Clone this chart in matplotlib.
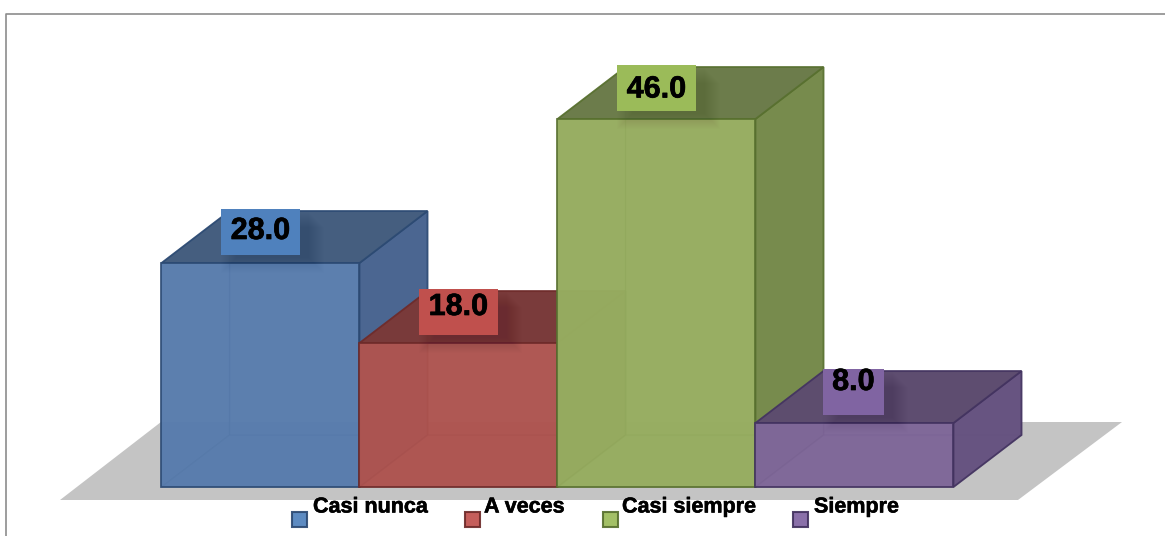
import matplotlib
matplotlib.use("Agg")
import matplotlib.pyplot as plt
import matplotlib.patheffects as pe
from matplotlib.patches import Polygon, Rectangle

categories = ["Casi nunca", "A veces", "Casi siempre", "Siempre"]
values = [28.0, 18.0, 46.0, 8.0]
front_colors = ["#587CAD", "#AE5450", "#96AD60", "#7F6799"]
top_colors = ["#445D7D", "#783939", "#6A7A4A", "#5C4C6E"]
side_colors = ["#4A6590", "#874140", "#768A4C", "#665380"]
edge_colors = ["#2C4A73", "#6E2B2A", "#58702F", "#433360"]
label_colors = ["#4F81BD", "#C0504D", "#9BBB59", "#8064A2"]

W, H = 1165, 536
X0, BAR_W = 161.5, 198.0      # pixel x of the first bar, pixel width of a category
Y0, PX_PER_UNIT = 487.0, 8.0  # pixel y of the baseline, pixels per value unit
DEPTH_X = 68 / BAR_W          # oblique depth in category units
DEPTH_Y = 52 / PX_PER_UNIT    # oblique depth in value units

fig = plt.figure(figsize=(W / 100, H / 100), dpi=100, facecolor="white")
ax = fig.add_axes([0, 0, 1, 1])
ax.set_xlim(-X0 / BAR_W, (W - X0) / BAR_W)
ax.set_ylim(-(H - Y0) / PX_PER_UNIT, Y0 / PX_PER_UNIT)
ax.axis("off")


def px(x, y):
    """Convert a pixel position (origin top-left) to data coordinates."""
    return (x - X0) / BAR_W, (Y0 - y) / PX_PER_UNIT


def px_poly(points, **kw):
    ax.add_patch(Polygon([px(*p) for p in points], closed=True, **kw))


# outer frame: left and top rules only, the right side runs off the canvas
ax.plot(*zip(px(6.5, 536), px(6.5, 13.5), px(1165, 13.5)),
        color="#8C8C8C", lw=1.2, zorder=1)

# floor
px_poly([(60, 500), (161, 422), (1122, 422), (1018, 500)],
        facecolor="#C4C4C4", edgecolor="none", zorder=2)


def face(points, fc, ec, alpha, z, edge_alpha=0.9, lw=1.3):
    ax.add_patch(Polygon(points, closed=True, facecolor=fc, edgecolor="none",
                         alpha=alpha, zorder=z))
    ax.add_patch(Polygon(points, closed=True, fill=False, edgecolor=ec,
                         lw=lw, alpha=edge_alpha, zorder=z))


# oblique boxes, left to right
for i, v in enumerate(values):
    x0, x1 = i, i + 1
    dx, dy = DEPTH_X, DEPTH_Y
    z = 3 + i
    fc, tc, sc, ec = front_colors[i], top_colors[i], side_colors[i], edge_colors[i]
    # hidden faces
    face([(x0 + dx, dy), (x1 + dx, dy), (x1 + dx, v + dy), (x0 + dx, v + dy)], fc, ec, 0.8, z, 0.35, 1.0)
    face([(x0, 0), (x0 + dx, dy), (x0 + dx, v + dy), (x0, v)], fc, ec, 0.8, z, 0.35, 1.0)
    face([(x0, 0), (x1, 0), (x1 + dx, dy), (x0 + dx, dy)], fc, ec, 0.8, z, 0.35, 1.0)
    # visible faces
    face([(x1, 0), (x1 + dx, dy), (x1 + dx, v + dy), (x1, v)], sc, ec, 0.97, z)
    face([(x0, v), (x1, v), (x1 + dx, v + dy), (x0 + dx, v + dy)], tc, ec, 0.97, z)
    face([(x0, 0), (x1, 0), (x1, v), (x0, v)], fc, ec, 0.88, z)

# value labels with a soft drop shadow, anchored to the back edge of each box
label_left = [221, 419, 617, 823]
label_width = [79, 79, 79, 61]
label_text_y = [231, 307, 89.5, 382]
for i, v in enumerate(values):
    left_px, w_px = label_left[i], label_width[i]
    top_px = Y0 - (v * PX_PER_UNIT) - 54
    cx, _ = px(left_px + w_px / 2, 0)
    w = w_px / BAR_W
    h = 46 / PX_PER_UNIT
    bottom = px(0, top_px + 46)[1]
    for grow in range(1, 17):
        ax.add_patch(Rectangle((cx - w / 2 + (16 - grow) / BAR_W, bottom - (2 + grow) / PX_PER_UNIT),
                               w + (2 * grow - 16 + 8) / BAR_W, h,
                               facecolor="#202030", edgecolor="none", alpha=0.009, zorder=8))
    ax.add_patch(Rectangle((cx - w / 2, bottom), w, h, facecolor=label_colors[i],
                           edgecolor="none", zorder=9))
    ax.text(cx, px(0, label_text_y[i])[1], f"{v:.1f}", ha="center", va="center",
            color="black", zorder=10, family="Liberation Sans", weight="bold", size=22,
            path_effects=[pe.withStroke(linewidth=0.5, foreground="black")])

# legend
swatch_x = [292, 465, 603, 793]
text_x = [313, 484, 622, 814]
for name, sx, tx, fc, ec in zip(categories, swatch_x, text_x, label_colors, edge_colors):
    x, y = px(sx, 527)
    ax.add_patch(Rectangle((x, y), 15 / BAR_W, 15 / PX_PER_UNIT, facecolor=fc,
                           edgecolor=ec, lw=1.5, alpha=0.92, zorder=10))
    ax.text(*px(tx, 507), name, ha="left", va="center", color="black",
            family="Liberation Sans", weight="bold", fontsize=15.5, zorder=10,
            path_effects=[pe.withStroke(linewidth=0.4, foreground="black")])

fig.savefig("out.png", dpi=100)
